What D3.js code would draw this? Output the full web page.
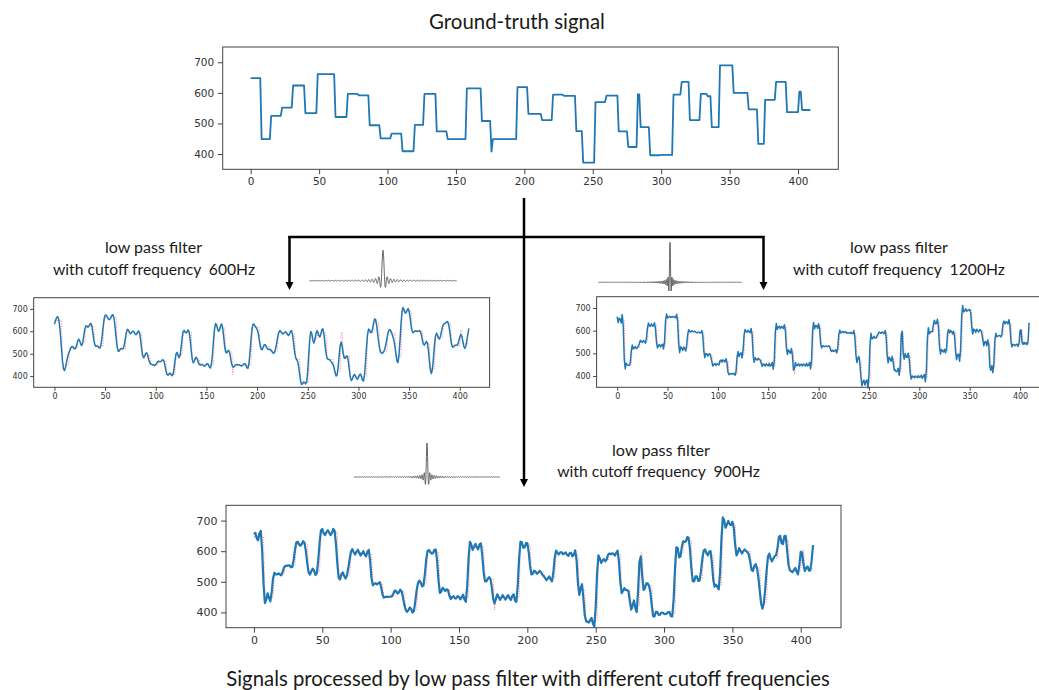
<!DOCTYPE html>
<html>
<head>
<meta charset="utf-8">
<script src="https://cdn.jsdelivr.net/npm/d3@7"></script>
<style>
  body { margin: 0; background: #fff; }
  svg { display: block; }
</style>
</head>
<body>
<svg id="fig" width="1039" height="690"></svg>
<script>
// Ground-truth signal: sample index where each level starts, and the level
const stepStarts = [0, 8, 15, 23, 31, 40, 49, 62, 71, 79, 87, 95, 103, 111, 120, 127, 136, 144, 158, 169, 176, 177,
                    195, 203, 213, 221, 229, 238, 243, 252, 260, 269, 276, 283, 285, 292, 300, 309, 315, 321, 329, 334,
                    337, 343, 353, 364, 371, 376, 384, 392, 401, 403];
const stepLevels = [648, 449, 525, 552, 624, 534, 661, 521, 597, 592, 494, 451, 467, 409, 495, 597, 474, 449, 615, 508, 408, 449,
                    619, 531, 511, 594, 590, 475, 372, 570, 591, 474, 423, 595, 488, 396, 397, 594, 636, 511, 597, 589,
                    488, 690, 600, 546, 433, 577, 636, 537, 604, 544];
const nSamples = 410;

const xTicks = [0, 50, 100, 150, 200, 250, 300, 350, 400];
const yTicks = [400, 500, 600, 700];
const xDomain = [-20.45, 429.45];
const yDomain = [350, 750];

// low pass filters
const cutoffs = [600, 1200, 900];
const sampleRate = 3400;
const leadSamples = 1;
const kernelPeriods = [22, 45, 33];

// expand the steps into one value per sample
const truth = d3.range(nSamples).map(i => stepLevels[d3.bisectRight(stepStarts, i) - 1]);

// ideal (brick wall) low pass, done with a plain DFT
function lowPass(x, fc) {
    const N = x.length;
    const kMax = Math.floor(fc * N);
    const out = new Array(N).fill(0);
    for (let k = -kMax; k <= kMax; k++) {
        let re = 0, im = 0;
        for (let n = 0; n < N; n++) {
            const a = -2 * Math.PI * k * n / N;
            re += x[n] * Math.cos(a);
            im += x[n] * Math.sin(a);
        }
        for (let n = 0; n < N; n++) {
            const a = 2 * Math.PI * k * n / N;
            out[n] += (re * Math.cos(a) - im * Math.sin(a)) / N;
        }
    }
    return out.map((v, i) => out[(i + leadSamples) % N]);
}

const filtered = cutoffs.map(c => lowPass(truth, c / sampleRate));

const svg = d3.select('#fig');
const tickFont = 'DejaVu Sans, sans-serif';
const textFont = 'Lato, "Open Sans", sans-serif';

// panel boxes (pixels)
const panels = [
    { series: truth, ref: false, box: [222.7, 838.3, 47, 169.3], font: 10.5, tick: 5, lw: 1.8 },
    { series: filtered[0], ref: true, box: [33.7, 489.6, 297.7, 387.3], font: 8, tick: 3.5, lw: 1.5 },
    { series: filtered[1], ref: true, box: [596.6, 1049.7, 296.7, 387.3], font: 8, tick: 3.5, lw: 1.5 },
    { series: filtered[2], ref: true, box: [226, 841, 505.3, 627.7], font: 11, tick: 5, lw: 2.2 }
];

panels.forEach(p => {
    const [l, r, t, b] = p.box;
    const x = d3.scaleLinear().domain(xDomain).range([l, r]);
    const y = d3.scaleLinear().domain(yDomain).range([b, t]);
    const g = svg.append('g');

    const line = d3.line().x((d, i) => x(i)).y(d => y(d));

    if (p.ref) {
        g.append('path')
            .datum(truth)
            .attr('d', line)
            .attr('fill', 'none')
            .attr('stroke', '#ff0000')
            .attr('stroke-opacity', 0.5)
            .attr('stroke-width', 1)
            .attr('stroke-dasharray', '1,1.5');
    }

    g.append('path')
        .datum(p.series)
        .attr('d', line)
        .attr('fill', 'none')
        .attr('stroke', '#1f77b4')
        .attr('stroke-width', p.lw)
        .attr('stroke-linejoin', 'round');

    // frame
    g.append('rect')
        .attr('x', l).attr('y', t)
        .attr('width', r - l).attr('height', b - t)
        .attr('fill', 'none')
        .attr('stroke', '#444')
        .attr('stroke-width', 1);

    const xa = g.append('g')
        .attr('transform', `translate(0,${b})`)
        .call(d3.axisBottom(x).tickValues(xTicks).tickSize(p.tick).tickSizeOuter(0).tickPadding(p.tick * 0.7));
    const ya = g.append('g')
        .attr('transform', `translate(${l},0)`)
        .call(d3.axisLeft(y).tickValues(yTicks).tickSize(p.tick).tickSizeOuter(0).tickPadding(p.tick * 0.7));

    [xa, ya].forEach(a => {
        a.select('.domain').remove();
        a.selectAll('line').attr('stroke', '#444');
        a.selectAll('text')
            .attr('fill', '#333')
            .style('font-family', tickFont)
            .style('font-size', p.font + 'px');
    });
});

// filter kernels (impulse response of each low pass)
const kernels = [
    { fc: cutoffs[0] / sampleRate, periods: kernelPeriods[0], x0: 309.3, x1: 456.7, base: 280.7, top: 250 },
    { fc: cutoffs[1] / sampleRate, periods: kernelPeriods[1], x0: 598.3, x1: 741.7, base: 282.3, top: 242.3 },
    { fc: cutoffs[2] / sampleRate, periods: kernelPeriods[2], x0: 354, x1: 500, base: 477, top: 443 }
];

kernels.forEach(k => {
    const half = Math.round(k.periods / k.fc);
    const n = d3.range(-half, half + 0.001, 0.25);
    const h = n.map(v => v === 0 ? 1 : Math.sin(2 * Math.PI * k.fc * v) / (2 * Math.PI * k.fc * v));
    const kx = d3.scaleLinear().domain([-half, half]).range([k.x0, k.x1]);
    const ky = d3.scaleLinear().domain([0, 1]).range([k.base, k.top]);
    svg.append('path')
        .datum(h)
        .attr('d', d3.line().x((d, i) => kx(n[i])).y(d => ky(d)))
        .attr('fill', 'none')
        .attr('stroke', '#555')
        .attr('stroke-width', 0.9);
});

// arrows
const arrowColor = '#000';
function arrowDown(xp, y0, y1) {
    svg.append('line')
        .attr('x1', xp).attr('x2', xp)
        .attr('y1', y0).attr('y2', y1 - 6)
        .attr('stroke', arrowColor).attr('stroke-width', 2.5);
    svg.append('path')
        .attr('d', `M${xp - 4},${y1 - 8}L${xp + 4},${y1 - 8}L${xp},${y1}Z`)
        .attr('fill', arrowColor);
}
svg.append('line')
    .attr('x1', 288.3).attr('x2', 764.3)
    .attr('y1', 237).attr('y2', 237)
    .attr('stroke', arrowColor).attr('stroke-width', 2.5);
arrowDown(524, 198, 487);
arrowDown(289.5, 236, 290);
arrowDown(763.5, 236, 290);

// captions: text, centre x, baseline y, width
const captions = [
    ['Ground-truth signal', 517, 29, 176],
    ['low pass filter', 153.5, 253, 97],
    ['with cutoff frequency  600Hz', 154, 275, 202],
    ['low pass filter', 899, 253, 98],
    ['with cutoff frequency  1200Hz', 899, 275, 212],
    ['low pass filter', 661, 456, 98],
    ['with cutoff frequency  900Hz', 658.5, 477, 203],
    ['Signals processed by low pass filter with different cutoff frequencies', 528, 686, 604]
];

captions.forEach(([txt, cx, by, w]) => {
    const t = svg.append('text')
        .attr('x', cx).attr('y', by)
        .attr('text-anchor', 'middle')
        .attr('fill', '#1a1a1a')
        .style('font-family', textFont)
        .style('white-space', 'pre')
        .attr('font-size', 16)
        .text(txt);
    const m = t.node().getComputedTextLength();
    t.attr('font-size', 16 * w / m);
});
</script>
</body>
</html>
